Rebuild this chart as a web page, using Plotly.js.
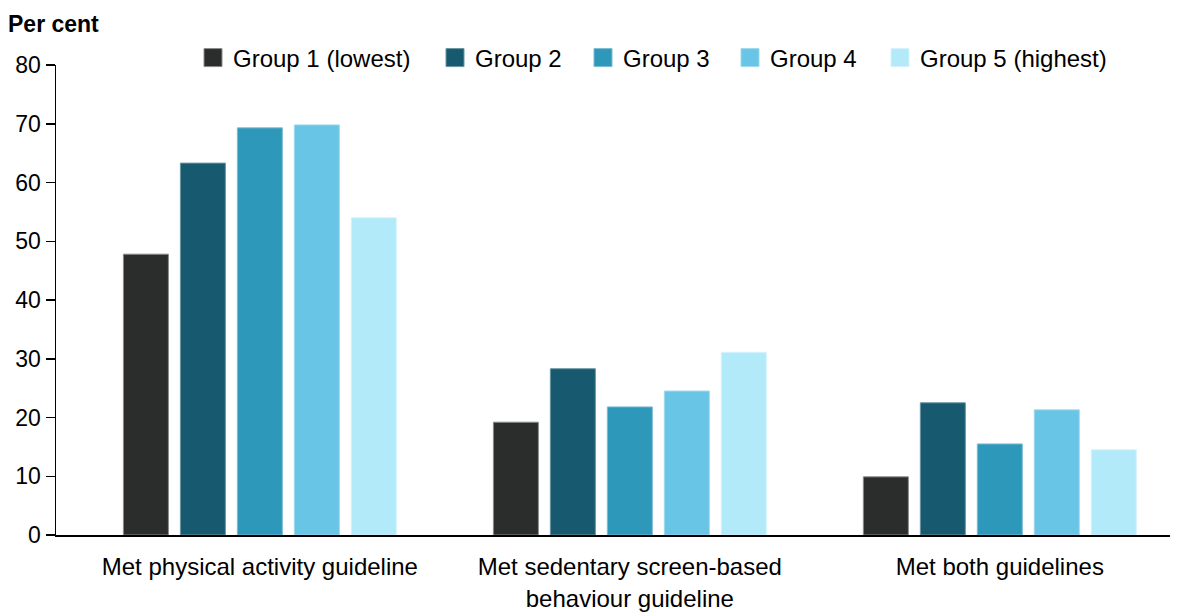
<!DOCTYPE html>
<html>
<head>
<meta charset="utf-8">
<script src="https://cdn.plot.ly/plotly-3.0.1.min.js"></script>
<style>html,body{margin:0;padding:0;background:#fff;}#chart{width:1178px;height:612px;}</style>
</head>
<body>
<div id="chart"></div>
<script>
const categories = ["Met physical activity guideline", "Met sedentary screen-based<br>behaviour guideline", "Met both guidelines"];
const seriesNames = ["Group 1 (lowest)", "Group 2", "Group 3", "Group 4", "Group 5 (highest)"];
const group1 = [47.8, 19.2, 9.9];
const group2 = [63.3, 28.3, 22.5];
const group3 = [69.3, 21.8, 15.5];
const group4 = [69.8, 24.5, 21.3];
const group5 = [54.0, 31.1, 14.5];
const colors = ["#2b2d2c", "#175a70", "#2d98ba", "#68c5e5", "#b3eafa"];
const lineColors = ["#8a8c8b", "#6a95a3", "#7cbcd2", "#9fd9ee", "#d4f3fc"];
const yTicks = [0, 10, 20, 30, 40, 50, 60, 70, 80];

const W = 1178, H = 612, ML = 56, MR = 8, MT = 65, MB = 77;
const plotW = W - ML - MR, plotH = H - MT - MB;
const legendLeftPx = [193, 435, 583, 730, 880];
const legendNames = ["legend", "legend2", "legend3", "legend4", "legend5"];

const allSeries = [group1, group2, group3, group4, group5];
const data = allSeries.map((vals, i) => ({
  type: "bar",
  name: seriesNames[i],
  x: [0, 1, 2],
  y: vals,
  legend: legendNames[i],
  marker: {color: colors[i], line: {color: lineColors[i], width: 1}},
  hoverinfo: "y+name"
}));

const layout = {
  width: W, height: H,
  margin: {l: ML, r: MR, t: MT, b: MB},
  paper_bgcolor: "#fff", plot_bgcolor: "#fff",
  font: {family: "Liberation Sans, Arial, sans-serif", size: 24, color: "#000"},
  barmode: "group",
  bargap: 0.23,
  bargroupgap: 0.21,
  showlegend: true,
  xaxis: {
    range: [-0.551, 2.46],
    tickvals: [0, 1, 2], ticktext: categories,
    showline: true, linecolor: "#000", linewidth: 1.5,
    ticks: "", showgrid: false, zeroline: false,
    tickfont: {size: 24}, ticklabelstandoff: 10, fixedrange: true
  },
  yaxis: {
    range: [0, 80], tickvals: yTicks, ticktext: yTicks.map(String),
    showline: true, linecolor: "#000", linewidth: 1.5,
    ticks: "outside", ticklen: 9, tickwidth: 1.5, tickcolor: "#000",
    showgrid: false, zeroline: false, tickfont: {size: 23}, fixedrange: true
  },
  annotations: [{
    text: "<b>Per cent</b>", xref: "paper", yref: "paper",
    x: (6 - ML) / plotW, y: 1 + (MT - 24) / plotH, xanchor: "left", yanchor: "middle",
    showarrow: false, font: {size: 23, color: "#000"}
  }]
};
legendNames.forEach((ln, i) => {
  layout[ln] = {
    orientation: "h", x: (legendLeftPx[i] - ML) / plotW, xanchor: "left",
    y: 1 + (MT - 58) / plotH, yanchor: "middle",
    font: {size: 24, color: "#000"}, bgcolor: "rgba(0,0,0,0)",
    itemclick: false, itemdoubleclick: false
  };
});

function enlargeSymbols() {
  document.querySelectorAll("g.legendpoints path").forEach(p => {
    p.setAttribute("d", "M9,9H-9V-9H9Z");
  });
}
Plotly.newPlot("chart", data, layout, {displayModeBar: false, staticPlot: true}).then(gd => {
  enlargeSymbols();
  gd.on("plotly_afterplot", enlargeSymbols);
});
</script>
</body>
</html>
